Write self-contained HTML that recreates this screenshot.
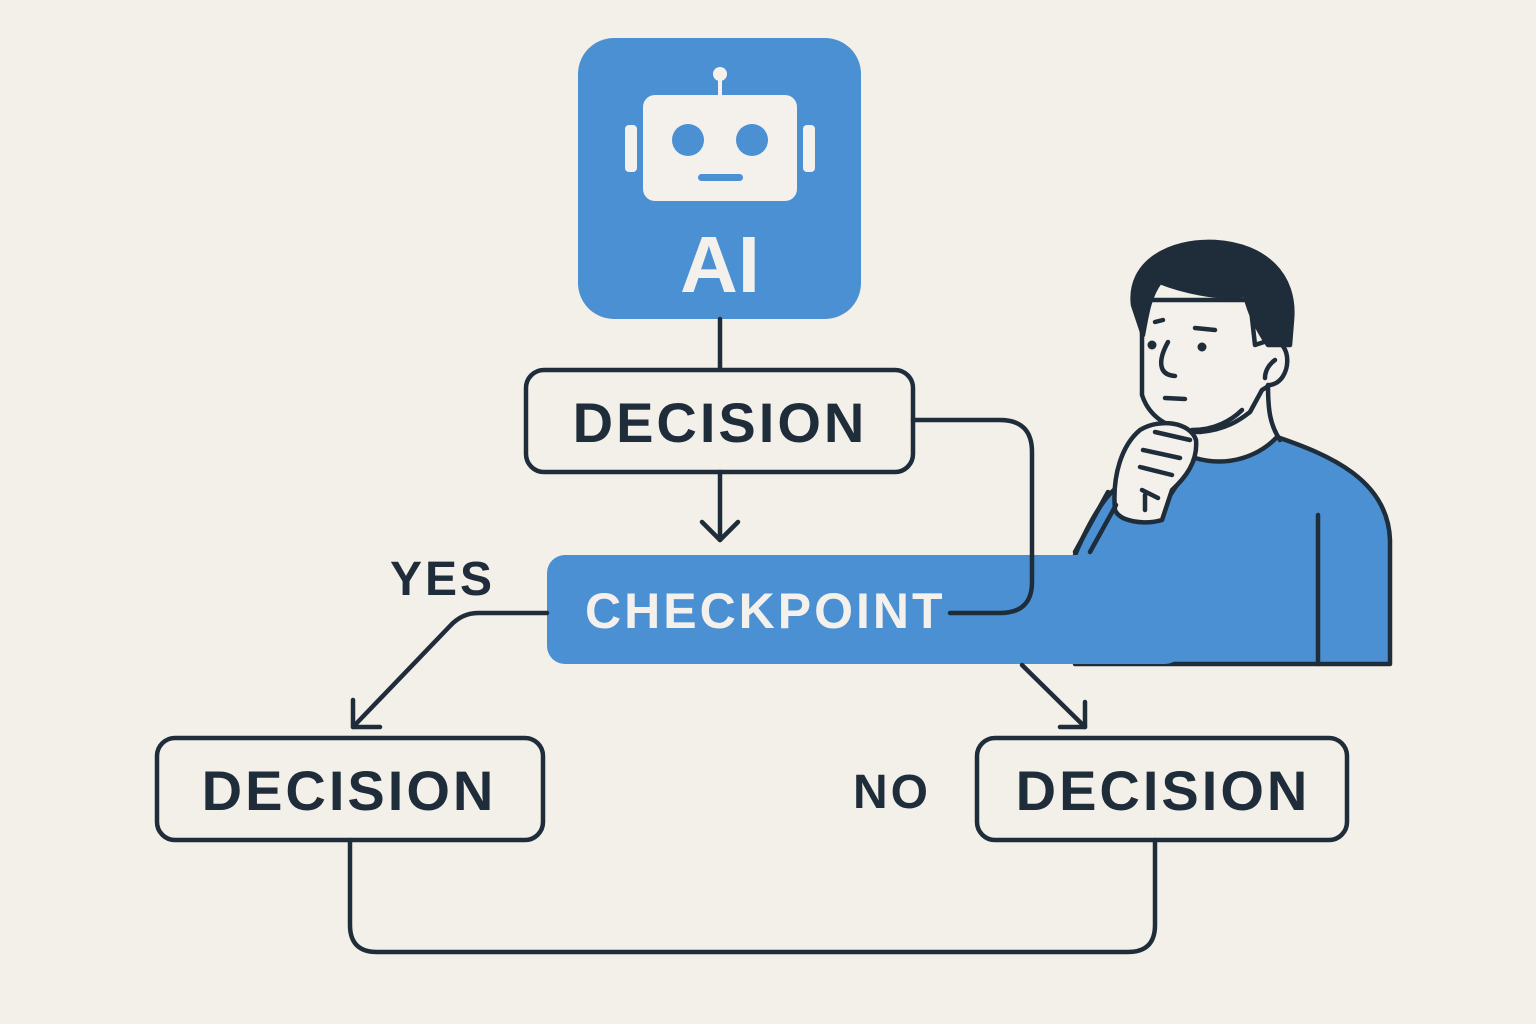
<!DOCTYPE html>
<html><head><meta charset="utf-8"><style>
html,body{margin:0;padding:0;background:#f3efe9;}
svg{display:block;}
text{font-family:"Liberation Sans",sans-serif;font-weight:bold;}
</style></head><body>
<svg width="1536" height="1024" viewBox="0 0 1536 1024" xmlns="http://www.w3.org/2000/svg">
<rect width="1536" height="1024" fill="#f3efe9"/>
<g stroke="#1f2d3a" stroke-width="4.5" fill="none" stroke-linecap="round" stroke-linejoin="round">
<rect x="578" y="38" width="283" height="281" rx="36" fill="#4a90d2" stroke="none"/>
<line x1="720" y1="319" x2="720" y2="370"/>
</g>
<g fill="#f4f1ec">
<circle cx="720" cy="74" r="7"/>
<rect x="718" y="74" width="4" height="24"/>
<rect x="643" y="95" width="154" height="106" rx="12"/>
<rect x="625" y="125" width="12" height="47" rx="4"/>
<rect x="803" y="125" width="12" height="47" rx="4"/>
</g>
<circle cx="688" cy="140" r="16" fill="#4a90d2"/>
<circle cx="752" cy="140" r="16" fill="#4a90d2"/>
<rect x="698" y="174" width="45" height="7" rx="3.5" fill="#4a90d2"/>
<text x="720" y="292" font-size="80" fill="#f4f1ec" text-anchor="middle">AI</text>

<g stroke="#1f2d3a" stroke-width="4.5" stroke-linecap="round" stroke-linejoin="round">
<path d="M1075,664 L1075,555 C1090,520 1105,495 1120,485 L1150,520 C1170,500 1185,470 1195,458 C1230,468 1260,455 1277,437 C1330,455 1388,480 1390,540 L1390,664 Z" fill="#4a90d2"/>
<path d="M1142,300 L1142,395 C1150,420 1175,432 1200,432 C1225,430 1240,420 1250,412 L1262,390 L1270,385 C1292,382 1294,340 1270,340 L1255,345 L1250,300 Z" fill="#f4f1ec"/>
<path d="M1268,385 C1268,410 1270,425 1280,440" fill="none"/>
<path d="M1133,305 C1128,262 1170,240 1215,242 C1265,245 1296,275 1292,320 L1290,345 L1268,345 C1258,330 1250,315 1245,295 C1220,300 1180,290 1160,282 C1150,295 1147,312 1143,335 Z" fill="#1f2d3a"/>
<path d="M1275,360 C1268,365 1265,372 1265,378" fill="none"/>
<path d="M1115,510 C1112,475 1122,445 1140,430 C1160,418 1190,422 1196,440 C1198,462 1185,478 1172,490 L1162,520 C1145,525 1120,522 1115,510 Z" fill="#f4f1ec"/>
<path d="M1155,432 L1190,440 M1143,450 L1180,458 M1140,467 L1172,475 M1142,490 L1158,498 M1145,495 L1145,510" fill="none"/>
<path d="M1075,552 L1108,492 M1090,552 L1116,505" fill="none"/>
<path d="M1318,515 L1318,664" fill="none"/>
<path d="M1155,322 L1163,320 M1195,328 L1215,330" fill="none"/>
<path d="M1168,342 C1158,360 1158,375 1175,376" fill="none"/>
<path d="M1165,398 L1185,399" fill="none"/>
<path d="M1192,430 C1215,430 1232,420 1242,410" fill="none"/>
</g>
<circle cx="1152" cy="345" r="4.5" fill="#1f2d3a"/>
<circle cx="1202" cy="347" r="4.5" fill="#1f2d3a"/>

<rect x="547" y="555" width="636" height="109" rx="18" fill="#4a90d2"/>
<text x="585" y="628" font-size="50" fill="#f4f1ec" letter-spacing="3">CHECKPOINT</text>

<g stroke="#1f2d3a" stroke-width="4.5" fill="none" stroke-linecap="round" stroke-linejoin="round">
<rect x="526" y="370" width="387" height="102" rx="18" fill="#f3efe9"/>
<rect x="157" y="738" width="386" height="102" rx="18" fill="#f3efe9"/>
<rect x="977" y="738" width="370" height="102" rx="18" fill="#f3efe9"/>
<line x1="720" y1="472" x2="720" y2="540"/>
<path d="M702,522 L720,540 L738,522"/>
<path d="M913,420 L1000,420 Q1032,420 1032,452 L1032,582 Q1032,613 1000,613 L950,613"/>
<path d="M547,613 L478,613 Q462,613 450,626 L353,727"/>
<path d="M353,700 L353,727 L380,727"/>
<path d="M1022,665 L1085,727"/>
<path d="M1060,727 L1085,727 L1085,702"/>
<path d="M350,840 L350,925 Q350,952 377,952 L1128,952 Q1155,952 1155,925 L1155,840"/>
</g>
<g fill="#1f2d3a" letter-spacing="3">
<text x="720" y="442" font-size="56" text-anchor="middle">DECISION</text>
<text x="349" y="810" font-size="56" text-anchor="middle">DECISION</text>
<text x="1163" y="810" font-size="56" text-anchor="middle">DECISION</text>
<text x="390" y="595" font-size="48">YES</text>
<text x="853" y="808" font-size="48">NO</text>
</g>
</svg>
</body></html>
